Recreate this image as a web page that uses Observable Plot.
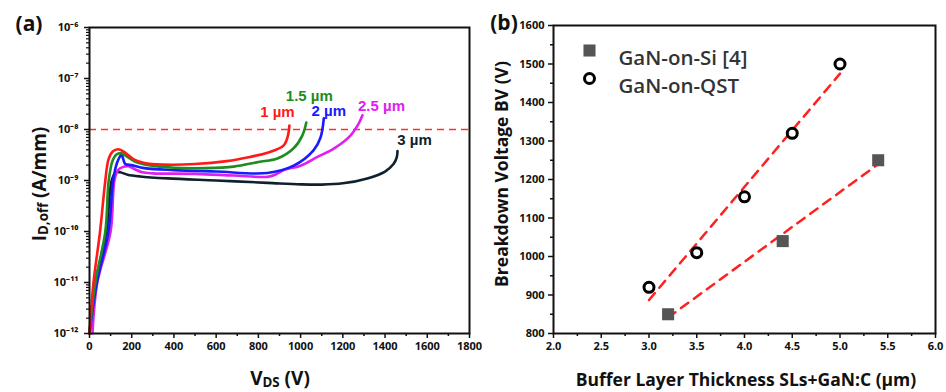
<!DOCTYPE html>
<html><head><meta charset="utf-8">
<script src="https://cdn.jsdelivr.net/npm/d3@7"></script>
<script src="https://cdn.jsdelivr.net/npm/@observablehq/plot@0.6"></script>
<style>
body{margin:0;background:#fff;font-family:"Open Sans",sans-serif;}
#wrap{position:relative;width:946px;height:392px;overflow:hidden;background:#fff}
.lbl{position:absolute;font-weight:700;color:#111;white-space:nowrap;transform:translate(-50%,-50%);line-height:1}
.rot{transform:translate(-50%,-50%) rotate(-90deg)}
sub{font-size:0.7em;vertical-align:-0.22em;line-height:0}
</style></head><body>
<div id="wrap">
<div id="pa" style="position:absolute;left:0;top:0"></div>
<div id="pb" style="position:absolute;left:480px;top:0"></div>
<div class="lbl" style="left:29px;top:23px;font-size:21px">(a)</div>
<div class="lbl" style="left:504px;top:22px;font-size:21px">(b)</div>
<div class="lbl rot" style="left:39px;top:184px;font-size:19px">I<sub>D,off</sub> (A/mm)</div>
<div class="lbl" style="left:280px;top:378px;font-size:19px">V<sub>DS</sub> (V)</div>
<div class="lbl rot" style="left:502px;top:174px;font-size:17.5px">Breakdown Voltage BV (V)</div>
<div class="lbl" style="left:746px;top:380px;font-size:17.5px">Buffer Layer Thickness SLs+GaN:C (µm)</div>
</div>
<script>
// ---------- Panel (a) data: [V_DS (V), I_D,off (A/mm)] ----------
const curve1um = [[0,1e-12],[19,1e-11],[50,1e-10],[75,1e-9],[90,2.6e-9],[110,3.7e-9],[137,4.1e-9],[170,3.5e-9],[210,2.6e-9],[260,2.2e-9],[350,2.05e-9],[500,2.1e-9],[650,2.4e-9],[760,2.9e-9],[843,3.5e-9],[920,4.9e-9],[940,7.6e-9],[947,1.2e-8]];
const curve15um = [[0,1e-12],[28,1e-11],[75,1e-10],[91,1e-9],[110,2.5e-9],[130,3.3e-9],[152,3.4e-9],[180,2.9e-9],[220,2.3e-9],[280,2.0e-9],[400,1.78e-9],[550,1.75e-9],[683,1.87e-9],[800,2.3e-9],[890,2.7e-9],[967,4.3e-9],[1008,7.6e-9],[1027,1.37e-8]];
const curve2um = [[0,1e-12],[35,1e-11],[90,1e-10],[112,1e-9],[130,2.2e-9],[145,3e-9],[152,3.3e-9],[160,2.6e-9],[170,2.1e-9],[200,2.0e-9],[260,1.75e-9],[400,1.6e-9],[600,1.5e-9],[843,1.4e-9],[967,1.95e-9],[1061,3.9e-9],[1094,6.9e-9],[1110,1.65e-8]];
const curve25um = [[14,1e-12],[37,1e-11],[100,1e-10],[118,1e-9],[135,1.6e-9],[160,1.85e-9],[185,1.9e-9],[210,1.7e-9],[250,1.45e-9],[300,1.38e-9],[500,1.35e-9],[683,1.25e-9],[843,1.18e-9],[880,1.3e-9],[920,1.6e-9],[1000,1.95e-9],[1080,2.9e-9],[1157,4.2e-9],[1236,7.6e-9],[1275,1.3e-8],[1293,1.9e-8]];
const curve3um = [[0,1e-12],[28,1e-11],[80,1e-10],[105,1e-9],[125,1.45e-9],[145,1.45e-9],[180,1.3e-9],[240,1.2e-9],[370,1.1e-9],[600,1.0e-9],[843,0.9e-9],[1000,0.84e-9],[1100,0.83e-9],[1200,0.88e-9],[1316,1.1e-9],[1400,1.5e-9],[1440,2.1e-9],[1455,2.8e-9],[1459,3.8e-9]];
const curveNames = ["1 µm","1.5 µm","2 µm","2.5 µm","3 µm"];
const threshold = 1e-8;
const vdsTicks = d3.range(0, 1801, 200);
const vdsMinor = d3.range(100, 1800, 200);
const idExponents = d3.range(-12, -5);

// ---------- Panel (b) data ----------
const seriesNames = ["GaN-on-Si [4]", "GaN-on-QST"];
const siThickness = [3.2, 4.4, 5.4];
const siBV = [850, 1040, 1250];
const qstThickness = [3.0, 3.5, 4.0, 4.5, 5.0];
const qstBV = [920, 1010, 1155, 1320, 1500];
const thickTicks = d3.range(2, 6.01, 0.5);
const thickMinor = d3.range(2.25, 6, 0.5);
const bvTicks = d3.range(800, 1601, 100);
const bvMinor = d3.range(850, 1600, 100);

// ---------- styles ----------
const curveColors = ["#ff1a1a","#1e8c1e","#1a1aff","#e020f0","#10212e"];
const labelOffsets = [[-12,-13],[3,-26],[5,-7],[19,-9],[17,-11]];
const fitColor = "#ff2020";

const supMap = {"-":"⁻","0":"⁰","1":"¹","2":"²","3":"³","4":"⁴","5":"⁵","6":"⁶","7":"⁷","8":"⁸","9":"⁹"};
const sup = s => String(s).split("").map(c => supMap[c]).join("");
const idTicks = idExponents.map(e => Math.pow(10, e));
const idMinor = idExponents.slice(0, -1).flatMap(e => d3.range(2, 10).map(k => k * Math.pow(10, e)));
const intFmt = d3.format("d");

const curves = [curve1um, curve15um, curve2um, curve25um, curve3um];
const rows = [];
for (let k = curves.length - 1; k >= 0; k--) curves[k].forEach(([v, i]) => rows.push({v, i, s: curveNames[k]}));

const commonStyle = {fontFamily: "'Open Sans', sans-serif", fontSize: "11px", fontWeight: "700", color: "#111", background: "transparent", overflow: "visible"};

const labelMarks = curves.map((c, k) => {
  const last = c[c.length - 1];
  return Plot.text([{v: last[0], i: last[1], s: curveNames[k]}], {
    x: "v", y: "i", text: "s", fill: curveColors[k], dx: labelOffsets[k][0], dy: labelOffsets[k][1],
    fontFamily: "'Liberation Sans', Arial, sans-serif", fontSize: 15, fontWeight: 700
  });
});

const plotA = Plot.plot({
  width: 480, height: 392, marginLeft: 89, marginRight: 11, marginTop: 27, marginBottom: 59,
  style: commonStyle,
  x: {domain: [0, 1800], label: null},
  y: {type: "log", domain: [1e-12, 1e-6], label: null},
  color: {domain: curveNames, range: curveColors},
  marks: [
    Plot.ruleY([threshold], {stroke: "#ff3030", strokeWidth: 1.5, strokeDasharray: "7,5"}),
    Plot.line(rows, {x: "v", y: "i", z: "s", stroke: "s", curve: "catmull-rom", strokeWidth: 2.6}),
    ...labelMarks,
    Plot.axisX({ticks: vdsTicks, tickSize: 5, tickPadding: 4, strokeWidth: 1.5, label: null, tickFormat: intFmt}),
    Plot.axisX({ticks: vdsMinor, tickSize: 3, strokeWidth: 1.5, tickFormat: () => "", label: null}),
    Plot.axisY({ticks: idTicks, tickSize: 5, tickPadding: 6, strokeWidth: 1.5, label: null,
      tickFormat: d => "10" + sup(Math.round(Math.log10(d)))}),
    Plot.axisY({ticks: idMinor, tickSize: 3, strokeWidth: 1.2, tickFormat: () => "", label: null}),
    Plot.frame({stroke: "#111", strokeWidth: 2})
  ]
});
document.getElementById("pa").appendChild(plotA);

function fit(xs, ys) {
  const mx = d3.mean(xs), my = d3.mean(ys);
  const b = d3.sum(xs, (x, j) => (x - mx) * (ys[j] - my)) / d3.sum(xs, x => (x - mx) ** 2);
  const a = my - b * mx;
  const x0 = d3.min(xs), x1 = d3.max(xs);
  return [{x: x0, y: a + b * x0}, {x: x1, y: a + b * x1}];
}
const siData = siThickness.map((x, j) => ({x, y: siBV[j]}));
const qstData = qstThickness.map((x, j) => ({x, y: qstBV[j]}));

const plotB = Plot.plot({
  width: 466, height: 392, marginLeft: 73, marginRight: 11, marginTop: 25, marginBottom: 59,
  style: commonStyle,
  x: {domain: [2, 6], label: null},
  y: {domain: [800, 1600], label: null},
  marks: [
    Plot.line(fit(siThickness, siBV), {x: "x", y: "y", stroke: fitColor, strokeWidth: 2.5, strokeDasharray: "9,7"}),
    Plot.line(fit(qstThickness, qstBV), {x: "x", y: "y", stroke: fitColor, strokeWidth: 2.5, strokeDasharray: "9,7"}),
    Plot.dot(siData, {x: "x", y: "y", symbol: "square", r: 6.8, fill: "#555", stroke: "none"}),
    Plot.dot(qstData, {x: "x", y: "y", symbol: "circle", r: 5, fill: "white", stroke: "#000", strokeWidth: 3}),
    Plot.dot([seriesNames[0]], {frameAnchor: "top-left", dx: 36, dy: 25, symbol: "square", r: 6.8, fill: "#555", stroke: "none"}),
    Plot.dot([seriesNames[1]], {frameAnchor: "top-left", dx: 36, dy: 53, symbol: "circle", r: 5, fill: "white", stroke: "#000", strokeWidth: 3}),
    Plot.text([seriesNames[0]], {text: d => d, frameAnchor: "top-left", dx: 65, dy: 25, textAnchor: "start", fontSize: 20.5, fontWeight: 600, fill: "#333"}),
    Plot.text([seriesNames[1]], {text: d => d, frameAnchor: "top-left", dx: 65, dy: 53, textAnchor: "start", fontSize: 20.5, fontWeight: 600, fill: "#333"}),
    Plot.axisX({ticks: thickTicks, tickSize: 5, tickPadding: 4, strokeWidth: 1.5, label: null, tickFormat: d3.format(".1f")}),
    Plot.axisX({ticks: thickMinor, tickSize: 3, strokeWidth: 1.5, tickFormat: () => "", label: null}),
    Plot.axisY({ticks: bvTicks, tickSize: 5, tickPadding: 4, strokeWidth: 1.5, label: null, tickFormat: intFmt}),
    Plot.axisY({ticks: bvMinor, tickSize: 3, strokeWidth: 1.5, tickFormat: () => "", label: null}),
    Plot.frame({stroke: "#111", strokeWidth: 2})
  ]
});
document.getElementById("pb").appendChild(plotB);
</script>
</body></html>
